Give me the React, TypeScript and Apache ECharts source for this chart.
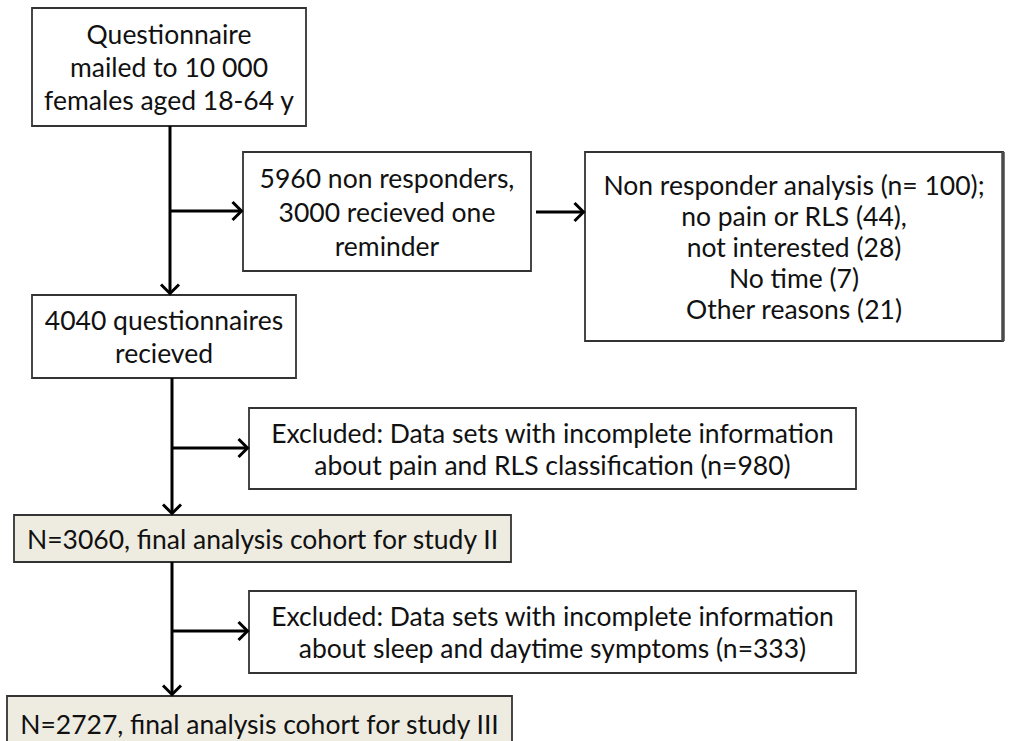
import React, { useEffect, useRef } from "react";
import * as echarts from "echarts";

// Flowchart content
const boxTexts: string[][] = [
  ["Questionnaire", "mailed to 10 000", "females aged 18-64 y"],
  ["5960 non responders,", "3000 recieved one", "reminder"],
  ["Non responder analysis (n= 100);", "no pain or RLS (44),", "not interested (28)", "No time (7)", "Other reasons (21)"],
  ["4040 questionnaires", "recieved"],
  ["Excluded: Data sets with incomplete information", "about pain and RLS classification (n=980)"],
  ["N=3060, final analysis cohort for study II"],
  ["Excluded: Data sets with incomplete information", "about sleep and daytime symptoms (n=333)"],
  ["N=2727, final analysis cohort for study III"],
];
const highlighted: boolean[] = [false, false, false, false, false, true, false, true];

// layout (pixels)
const layout = [
  { x: 32, y: 8, w: 274, h: 118, lh: 33 },
  { x: 243, y: 152, w: 288, h: 119, lh: 34 },
  { x: 585, y: 152, w: 418, h: 189, lh: 31 },
  { x: 32, y: 295, w: 264, h: 83, lh: 33 },
  { x: 249, y: 408, w: 607, h: 81, lh: 32 },
  { x: 14, y: 515, w: 497, h: 47, lh: 32 },
  { x: 249, y: 591, w: 607, h: 82, lh: 32 },
  { x: 7, y: 696, w: 505, h: 58, lh: 32, cy: 724 },
];

const FONT = "Lato, 'Noto Sans', sans-serif";
const FS = 26.5;

export default function App() {
  const ref = useRef<HTMLDivElement>(null);
  useEffect(() => {
    if (!ref.current) return;
    const chart = echarts.init(ref.current, null, { renderer: "svg" });
    const els: any[] = [];
    const lineStyle = { stroke: "#000", lineWidth: 3, fill: null };
    const arrowHead = (x: number, y: number, dir: "down" | "right") => {
      const s = 9;
      const pts =
        dir === "down"
          ? [[x - s, y - s - 1.5], [x, y - 1.5], [x + s, y - s - 1.5]]
          : [[x - s - 1.5, y - s], [x - 1.5, y], [x - s - 1.5, y + s]];
      els.push({ type: "polyline", shape: { points: pts }, style: { ...lineStyle, lineJoin: "miter" } });
    };
    const vline = (x: number, y1: number, y2: number) => {
      els.push({ type: "line", shape: { x1: x, y1, x2: x, y2: y2 - 2 }, style: lineStyle });
      arrowHead(x, y2, "down");
    };
    const hline = (y: number, x1: number, x2: number) => {
      els.push({ type: "line", shape: { x1, y1: y, x2: x2 - 2, y2: y }, style: lineStyle });
      arrowHead(x2, y, "right");
    };

    boxTexts.forEach((lines, i) => {
      const b: any = layout[i];
      els.push({
        type: "rect",
        shape: { x: b.x, y: b.y, width: b.w, height: b.h },
        style: { fill: highlighted[i] ? "#EEECE1" : "#fff", stroke: "#333", lineWidth: 1.8 },
      });
      const cy = b.cy !== undefined ? b.cy : b.y + b.h / 2;
      const start = cy - ((lines.length - 1) * b.lh) / 2;
      lines.forEach((t, k) => {
        els.push({
          type: "text",
          x: b.x + b.w / 2,
          y: start + k * b.lh,
          style: {
            text: t,
            fill: "#111",
            font: `${FS}px ${FONT}`,
            align: "center",
            verticalAlign: "middle",
          },
        });
      });
    });
    // shadow-like thicker right edge of non responder box
    els.push({ type: "line", shape: { x1: 1003, y1: 152, x2: 1003, y2: 341 }, style: { stroke: "#4a4a4a", lineWidth: 3.5 } });

    // connectors
    vline(170, 126, 295);
    hline(211, 171, 243);
    hline(212, 536, 585);
    vline(172, 378, 515);
    hline(448, 173, 249);
    vline(172, 562, 696);
    hline(631, 173, 249);

    chart.setOption({ animation: false, graphic: { elements: els } });
    return () => chart.dispose();
  }, []);
  return (
    <div
      ref={ref}
      style={{ position: "fixed", left: 0, top: 0, width: 1013, height: 741, background: "#fff" }}
    />
  );
}
